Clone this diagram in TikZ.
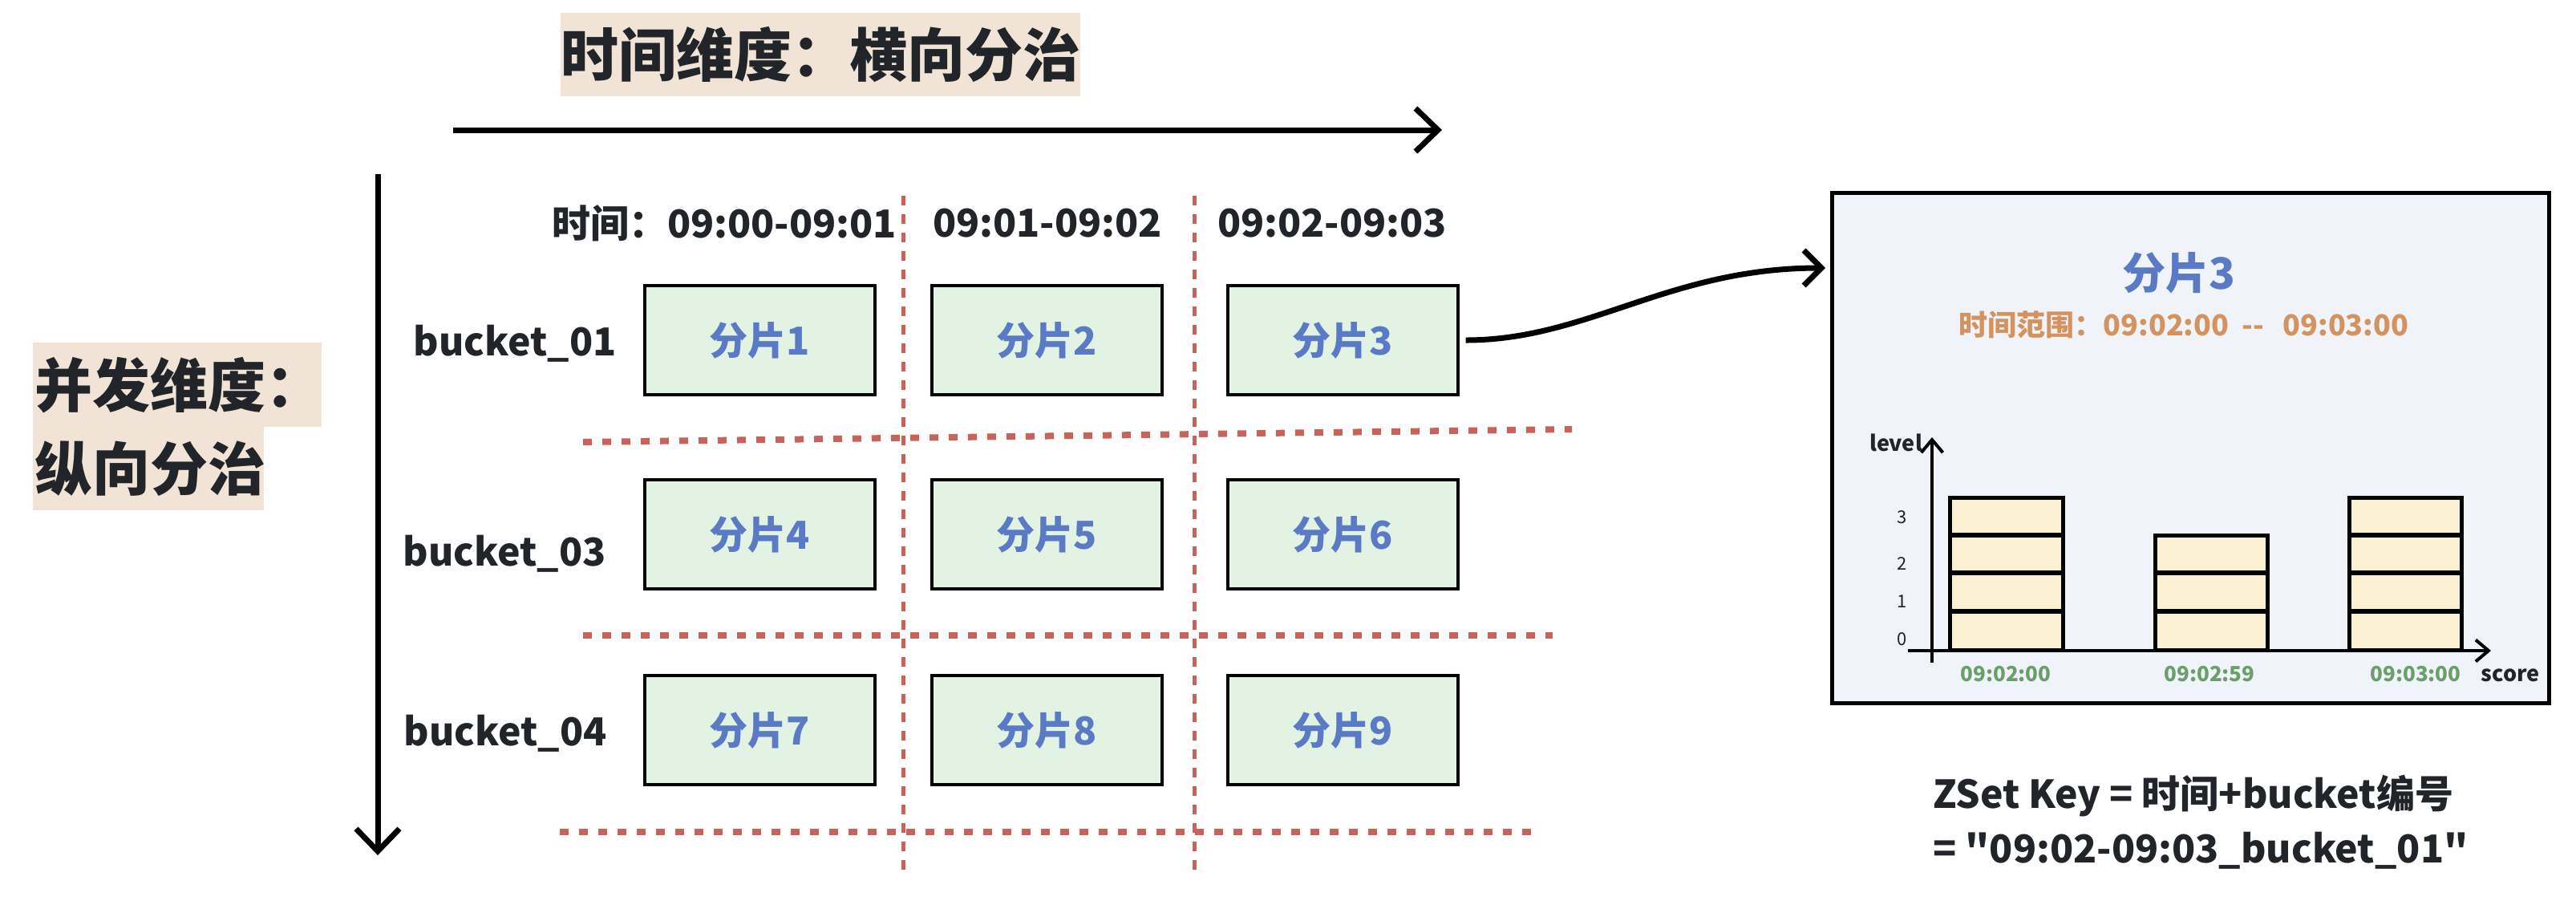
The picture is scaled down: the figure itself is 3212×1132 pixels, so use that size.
\documentclass[tikz,border=0pt]{standalone}
\usepackage{fontspec}
\setmainfont{Noto Sans CJK SC}[Ligatures=TeXOff]
\usetikzlibrary{arrows.meta}
\definecolor{ink}{HTML}{212529}
\definecolor{tanbg}{HTML}{F1E3D6}
\definecolor{cellgreen}{HTML}{E2F2E3}
\definecolor{cellblue}{HTML}{5A7AC5}
\definecolor{divred}{HTML}{C9625A}
\definecolor{panelbg}{HTML}{F0F3FA}
\definecolor{rangeorange}{HTML}{D4935E}
\definecolor{barfill}{HTML}{FCF0D2}
\definecolor{tickgreen}{HTML}{6A9F6A}
\tikzset{
  bigtxt/.style={text=ink, font=\fontsize{36pt}{44pt}\selectfont\bfseries, inner sep=0pt},
  hdr/.style={text=ink, font=\fontsize{24pt}{28pt}\selectfont\bfseries, inner sep=0pt},
  bucketlbl/.style={text=ink, font=\fontsize{24pt}{30pt}\selectfont\bfseries, inner sep=0pt},
  cell/.style={draw=black, line width=2pt, fill=cellgreen, minimum width=143.5pt, minimum height=68pt, inner sep=0pt,
    text=cellblue, font=\fontsize{24pt}{28pt}\selectfont\bfseries},
  mainaxis/.style={line width=3.5pt, -{Straight Barb[length=14pt,width=27pt,line width=3.5pt]}},
  vdiv/.style={divred, line width=2.5pt, dash pattern=on 6pt off 5.5pt},
  hdiv/.style={divred, line width=4pt, dash pattern=on 5.5pt off 6.5pt},
  conn/.style={line width=3.5pt, -{Straight Barb[length=11pt,width=22pt,line width=3.5pt]}},
  chartaxis/.style={line width=2pt, -{Straight Barb[length=8pt,width=13.5pt,line width=2pt]}},
  bar/.style={draw=black, line width=2.5pt, fill=barfill},
  sep/.style={line width=3pt},
  ticklbl/.style={text=ink, font=\fontsize{11pt}{13pt}\selectfont, inner sep=0pt},
  axislbl/.style={text=ink, font=\fontsize{13.5pt}{16pt}\selectfont\bfseries, inner sep=0pt},
  scorelbl/.style={text=tickgreen, font=\fontsize{13pt}{16pt}\selectfont\bfseries, inner sep=0pt},
  keytxt/.style={text=ink, font=\fontsize{24pt}{30pt}\selectfont\bfseries, inner sep=0pt, anchor=west}
}
\begin{document}
\begin{tikzpicture}[x=0.5pt,y=-0.5pt]
\useasboundingbox (0,0) rectangle (3212,1132);

% title
\node[bigtxt, fill=tanbg, minimum width=324pt, minimum height=52pt] (title) at (1023,68) {时间维度：横向分治};
\coordinate (hs) at (565,162);
\coordinate (he) at (1798,162);
\draw[mainaxis] (hs) -- (he);

% left label
\fill[tanbg] (41,427) rectangle (401,532);
\fill[tanbg] (41,532) rectangle (329,636);
\node[bigtxt, anchor=west] (conc1) at (43,480) {并发维度：};
\node[bigtxt, anchor=west] (conc2) at (43,584) {纵向分治};
\coordinate (vs) at (471,217);
\coordinate (ve) at (471,1066);
\draw[mainaxis] (vs) -- (ve);

% dividers
\coordinate (d1t) at (1126,244); \coordinate (d1b) at (1126,1090);
\coordinate (d2t) at (1489,244); \coordinate (d2b) at (1489,1094);
\draw[vdiv] (d1t) -- (d1b);
\draw[vdiv] (d2t) -- (d2b);
\coordinate (h1a) at (727,551); \coordinate (h1b) at (1960,535);
\coordinate (h2a) at (727,792); \coordinate (h2b) at (1936,792);
\coordinate (h3a) at (698,1037); \coordinate (h3b) at (1912,1037);
\draw[hdiv] (h1a) -- (h1b);
\draw[hdiv] (h2a) -- (h2b);
\draw[hdiv] (h3a) -- (h3b);

% headers
\node[hdr] (t1) at (903,278) {时间：09:00-09:01};
\node[hdr] (t2) at (1306,278) {09:01-09:02};
\node[hdr] (t3) at (1661,278) {09:02-09:03};

% bucket labels
\node[bucketlbl] (bk1) at (642,428) {bucket\_01};
\node[bucketlbl] (bk3) at (629,690) {bucket\_03};
\node[bucketlbl] (bk4) at (630,914) {bucket\_04};

% cells
\node[cell] (c1) at (947,424) {分片1};
\node[cell] (c2) at (1305,424) {分片2};
\node[cell] (c3) at (1674,424) {分片3};
\node[cell] (c4) at (947,666) {分片4};
\node[cell] (c5) at (1305,666) {分片5};
\node[cell] (c6) at (1674,666) {分片6};
\node[cell] (c7) at (947,910) {分片7};
\node[cell] (c8) at (1305,910) {分片8};
\node[cell] (c9) at (1674,910) {分片9};

% panel
\node[draw=black, line width=2.5pt, fill=panelbg, minimum width=447pt, minimum height=318pt, inner sep=0pt] (panel) at (2731,558) {};
\coordinate (pin) at (2276,334);
\draw[conn] ([xshift=4pt]c3.east) .. controls (1980,424) and (2080,334) .. (pin);

\node[text=cellblue, font=\fontsize{27pt}{32pt}\selectfont\bfseries, inner sep=0pt] (ptitle) at (2717,340) {分片3};
\node[text=rangeorange, font=\fontsize{18pt}{22pt}\selectfont\bfseries, inner sep=0pt] (prange) at (2723,405) {时间范围：09:02:00\hspace{0.45em}--\hspace{0.65em}09:03:00};

% chart
\coordinate (ya) at (2409,826); \coordinate (yb) at (2409,545);
\coordinate (xa) at (2379,811); \coordinate (xb) at (3106,811);

% bars
\draw[bar] (2431,620) rectangle (2572,810);
\draw[sep] (2431,667) -- (2572,667) (2431,714) -- (2572,714) (2431,762) -- (2572,762);
\draw[bar] (2687,667) rectangle (2827,810);
\draw[sep] (2687,714) -- (2827,714) (2687,762) -- (2827,762);
\draw[bar] (2929,620) rectangle (3069,810);
\draw[sep] (2929,667) -- (3069,667) (2929,714) -- (3069,714) (2929,762) -- (3069,762);

\draw[chartaxis] (ya) -- (yb);
\draw[chartaxis] (xa) -- (xb);

\node[ticklbl] (k3) at (2372,645) {3};
\node[ticklbl] (k2) at (2372,702) {2};
\node[ticklbl] (k1) at (2372,750) {1};
\node[ticklbl] (k0) at (2372,797) {0};
\node[axislbl] (lvl) at (2364,552) {level};
\node[axislbl] (scr) at (3130,842) {score};
\node[scorelbl] (s1) at (2501,840) {09:02:00};
\node[scorelbl] (s2) at (2755,840) {09:02:59};
\node[scorelbl] (s3) at (3012,840) {09:03:00};

% key text
\node[keytxt] (key1) at (2410,992) {ZSet Key = 时间+bucket编号};
\node[keytxt] (key2) at (2410,1060) {= "09:02-09:03\_bucket\_01"};
\end{tikzpicture}
\end{document}
